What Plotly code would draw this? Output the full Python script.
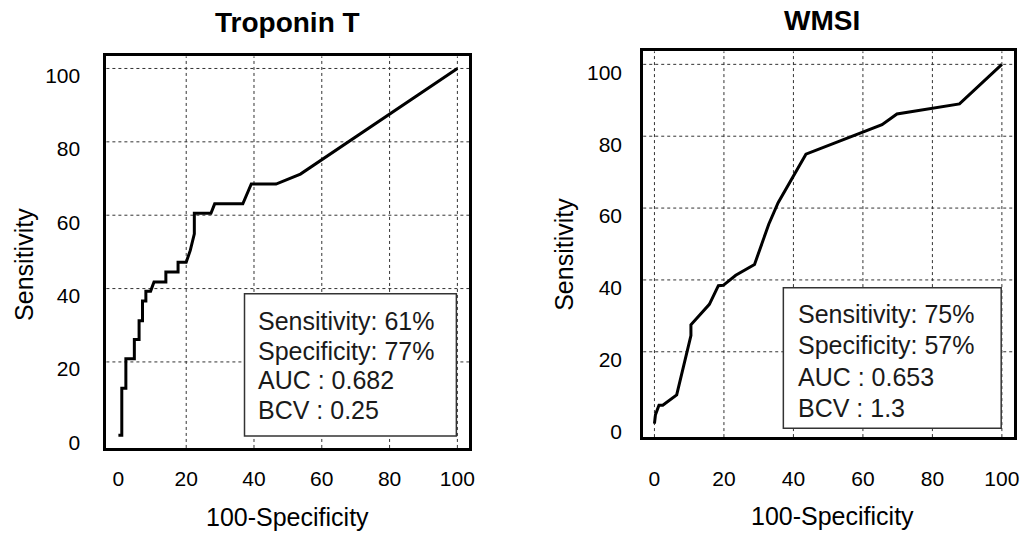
import plotly.graph_objects as go

# ---------------- data ----------------
trop_x = [0, 1, 1, 2.2, 2.2, 4.7, 4.7, 6.1, 6.1, 7.1, 7.1, 8.1, 8.1, 9.5, 10.5, 14, 14,
          17.6, 17.6, 20, 21.2, 22.4, 22.4, 27.3, 28.4, 36.7, 39.2, 46.5, 53.7, 100]
trop_y = [0, 0, 12.8, 12.8, 20.9, 20.9, 26.1, 26.1, 31.2, 31.2, 36.6, 36.6, 39.3, 39.3,
          41.8, 41.8, 44.5, 44.5, 47.2, 47.2, 50.4, 54.9, 60.5, 60.5, 63.1, 63.1, 68.5,
          68.5, 71.2, 100]

wmsi_x = [0, 0.3, 1.3, 2.4, 6.4, 9.3, 10.5, 10.5, 15.8, 18.4, 19.8, 23.4, 28.8, 32.9,
          35.6, 43.6, 65.5, 69.8, 87.8, 100]
wmsi_y = [0, 2.5, 5.1, 5.1, 8.0, 19.3, 24.5, 27.5, 33.2, 38.4, 38.5, 41.3, 44.3, 55.5,
          61.5, 75.0, 83.2, 86.2, 89.0, 100]

tick_vals = [0, 20, 40, 60, 80, 100]
tick_text = ["0", "20", "40", "60", "80", "100"]

panel_titles = ["Troponin T", "WMSI"]
x_title = "100-Specificity"
y_title = "Sensitivity"
trop_stats = ["Sensitivity: 61%", "Specificity: 77%", "AUC : 0.682", "BCV : 0.25"]
wmsi_stats = ["Sensitivity: 75%", "Specificity: 57%", "AUC : 0.653", "BCV : 1.3"]

# ---------------- layout helpers ----------------
W, H = 1028, 539
def px(x):
    return x / W
def py(y):
    return 1 - y / H

fig = go.Figure()
fig.add_trace(go.Scatter(x=trop_x, y=trop_y, mode="lines", xaxis="x", yaxis="y",
                         line=dict(color="black", width=3), showlegend=False,
                         hoverinfo="skip"))
fig.add_trace(go.Scatter(x=wmsi_x, y=wmsi_y, mode="lines", xaxis="x2", yaxis="y2",
                         line=dict(color="black", width=3), showlegend=False,
                         hoverinfo="skip"))

tick_font = dict(family="Liberation Sans, Arial, sans-serif", size=21, color="black")
axis_common = dict(showline=True, mirror=True, linewidth=3, linecolor="black",
                   showgrid=False, zeroline=False, ticks="", tickvals=tick_vals,
                   ticktext=tick_text, tickfont=tick_font, fixedrange=True)

fig.update_layout(
    width=W, height=H,
    margin=dict(l=0, r=0, t=0, b=0),
    paper_bgcolor="white", plot_bgcolor="white",
    xaxis=dict(domain=[px(107), px(472)], range=[-3.55, 103.5], anchor="y",
               ticklabelstandoff=10, **axis_common),
    yaxis=dict(domain=[py(453), py(57)], range=[-3.45, 103.3], anchor="x",
               ticklabelstandoff=19, ticklabelshift=7, **axis_common),
    xaxis2=dict(domain=[px(647), px(1020)], range=[-3.23, 103.5], anchor="y2",
                ticklabelstandoff=21, **axis_common),
    yaxis2=dict(domain=[py(442), py(52)], range=[-3.74, 103.6], anchor="x2",
                ticklabelstandoff=14, ticklabelshift=8, **axis_common),
)

grid_line = dict(color="#333333", width=1, dash="dot")
# gridlines (left panel has no line at 0; right panel has a vertical one at 0)
for v in tick_vals[1:]:
    fig.add_shape(type="line", xref="x", yref="y domain", x0=v, x1=v, y0=0, y1=1,
                  line=grid_line, layer="below")
    fig.add_shape(type="line", xref="x domain", yref="y", x0=0, x1=1, y0=v, y1=v,
                  line=grid_line, layer="below")
for v in tick_vals:
    fig.add_shape(type="line", xref="x2", yref="y2 domain", x0=v, x1=v, y0=0, y1=1,
                  line=grid_line, layer="below")
for v in tick_vals[1:]:
    fig.add_shape(type="line", xref="x2 domain", yref="y2", x0=0, x1=1, y0=v, y1=v,
                  line=grid_line, layer="below")

# stats boxes
fig.add_shape(type="rect", xref="x", yref="y", x0=37.2, x1=99.7, y0=-0.2, y1=38.6,
              line=dict(color="#333333", width=1.5), fillcolor="white", layer="below")
fig.add_shape(type="rect", xref="x2", yref="y2", x0=37.1, x1=99.8, y0=-1.3, y1=37.8,
              line=dict(color="#333333", width=1.5), fillcolor="white", layer="below")

stat_font = dict(family="Liberation Sans, Arial, sans-serif", size=25, color="#1a1a1a")
for i, line in enumerate(trop_stats):
    fig.add_annotation(xref="paper", yref="paper", x=px(258), y=py(324.5 + 30 * i),
                       xanchor="left", yanchor="middle", align="left", showarrow=False,
                       text=line, font=stat_font)
for i, line in enumerate(wmsi_stats):
    fig.add_annotation(xref="paper", yref="paper", x=px(801), y=py(317.5 + 31.7 * i),
                       xanchor="left", yanchor="middle", align="left", showarrow=False,
                       text=line, font=stat_font)

# panel titles
title_font = dict(family="Liberation Sans, Arial, sans-serif", size=28, color="black",
                  weight="bold")
fig.add_annotation(xref="paper", yref="paper", x=px(289), y=py(23), xanchor="center",
                   yanchor="middle", showarrow=False, text=f"<b>{panel_titles[0]}</b>",
                   font=title_font)
fig.add_annotation(xref="paper", yref="paper", x=px(827), y=py(21), xanchor="center",
                   yanchor="middle", showarrow=False, text=f"<b>{panel_titles[1]}</b>",
                   font=title_font)

# axis titles
ax_font = dict(family="Liberation Sans, Arial, sans-serif", size=25, color="black")
fig.add_annotation(xref="paper", yref="paper", x=px(289), y=py(523), xanchor="center",
                   yanchor="middle", showarrow=False, text=x_title, font=ax_font)
fig.add_annotation(xref="paper", yref="paper", x=px(837), y=py(522), xanchor="center",
                   yanchor="middle", showarrow=False, text=x_title, font=ax_font)
fig.add_annotation(xref="paper", yref="paper", x=px(24), y=py(267), xanchor="center",
                   yanchor="middle", showarrow=False, text=y_title, font=ax_font,
                   textangle=-90)
fig.add_annotation(xref="paper", yref="paper", x=px(567), y=py(257), xanchor="center",
                   yanchor="middle", showarrow=False, text=y_title, font=ax_font,
                   textangle=-90)

fig.write_html("out.html")
